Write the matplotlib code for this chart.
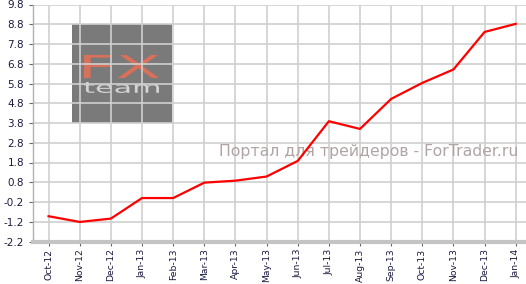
import matplotlib
matplotlib.use("Agg")
import matplotlib.pyplot as plt
from matplotlib.patches import Rectangle, PathPatch
from matplotlib.textpath import TextPath
from matplotlib.font_manager import FontProperties
from matplotlib.transforms import Affine2D

months = ["Oct-12", "Nov-12", "Dec-12", "Jan-13", "Feb-13", "Mar-13", "Apr-13", "May-13",
          "Jun-13", "Jul-13", "Aug-13", "Sep-13", "Oct-13", "Nov-13", "Dec-13", "Jan-14"]
values = [-0.92, -1.21, -1.04, 0.0, 0.0, 0.78, 0.88, 1.09,
          1.88, 3.89, 3.50, 5.02, 5.83, 6.51, 8.41, 8.82]
yticks = [-2.2, -1.2, -0.2, 0.8, 1.8, 2.8, 3.8, 4.8, 5.8, 6.8, 7.8, 8.8, 9.8]

W, H = 526, 284
fig = plt.figure(figsize=(W / 100, H / 100), dpi=100)
ax = fig.add_axes([33 / W, 1 - 241.5 / H, 1 - 33 / W, (241.5 - 4.5) / H])

x = list(range(len(months)))
ax.set_xlim(-0.5, 15.33)
ax.set_ylim(-2.2, 9.8)
ax.set_yticks(yticks)
ax.set_yticklabels([f"{v:.1f}" for v in yticks])
ax.set_xticks(x)
ax.set_xticklabels(months, rotation=90)

ax.grid(True, color="#d0d0d0", linewidth=1.2)
ax.set_axisbelow(True)
for s in ["top", "right"]:
    ax.spines[s].set_visible(False)
ax.spines["left"].set_color("#b0b0b0")
ax.spines["left"].set_linewidth(1.0)
ax.spines["bottom"].set_color("#c4c4c4")
ax.spines["bottom"].set_linewidth(3)
ax.tick_params(axis="y", labelsize=7.5, labelcolor="#1a1a40", color="#666666", length=3, width=0.8)
ax.tick_params(axis="x", labelsize=6.7, labelcolor="#1a1a40", color="#666666", length=3, width=0.8, pad=2)


def fig_px_text(s, box, color, weight="normal"):
    # draw text stretched to fill a box given in figure pixels (x0, y0_top, x1, y1_top)
    tp = TextPath((0, 0), s, size=1, prop=FontProperties(family="DejaVu Sans", weight=weight))
    ext = tp.get_extents()
    x0, yt0, x1, yt1 = box
    sx = (x1 - x0) / ext.width / W
    sy = (yt1 - yt0) / ext.height / H
    tr = (Affine2D().translate(-ext.x0, -ext.y0).scale(sx, sy)
          .translate(x0 / W, 1 - yt1 / H) + fig.transFigure)
    p = PathPatch(tp, transform=tr, facecolor=color, edgecolor="none", zorder=0.3)
    p.set_clip_on(False)
    ax.add_artist(p)


# logo (under the grid)
rect = Rectangle((72 / W, 1 - 123 / H), 100 / W, 99 / H, transform=fig.transFigure,
                 facecolor="#7a7a7a", edgecolor="none", zorder=0.2)
rect.set_clip_on(False)
ax.add_artist(rect)
fig_px_text("FX", (84, 55, 159, 78), "#d9705a")
fig_px_text("team", (84, 82, 159, 93), "#d4d4d4")

ax.text(0.985, 0.378, "Портал для трейдеров - ForTrader.ru", transform=ax.transAxes,
        ha="right", va="center", fontsize=11.3, color="#b0a4a4", family="DejaVu Sans", zorder=1)

ax.plot(x, values, color="#ff0000", linewidth=1.6, zorder=3)

fig.savefig("out.png", dpi=100)
